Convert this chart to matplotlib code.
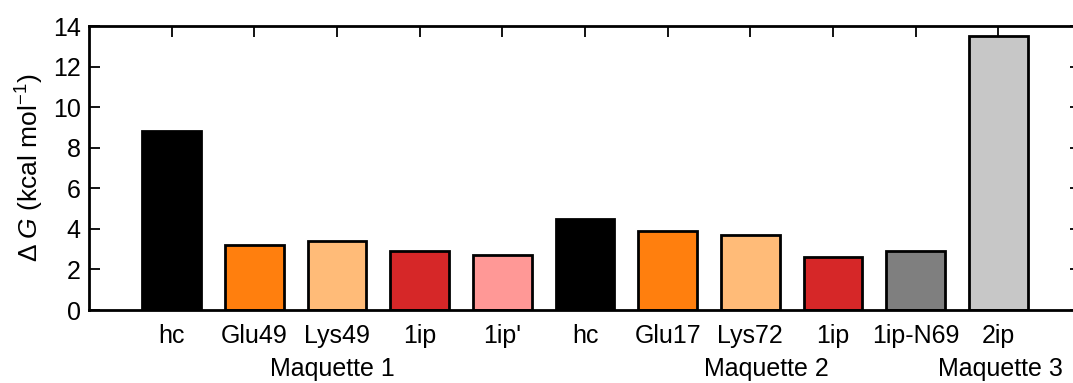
import matplotlib
matplotlib.use("Agg")
import matplotlib.pyplot as plt

plt.rcParams['font.family'] = ['Liberation Sans', 'DejaVu Sans']
plt.rcParams['mathtext.fontset'] = 'custom'
plt.rcParams['mathtext.rm'] = 'Liberation Sans'
plt.rcParams['mathtext.it'] = 'Liberation Sans:italic'

labels = ["hc", "Glu49", "Lys49", "1ip", "1ip'", "hc", "Glu17", "Lys72", "1ip", "1ip-N69", "2ip"]
values = [8.8, 3.2, 3.4, 2.9, 2.7, 4.5, 3.9, 3.7, 2.6, 2.9, 13.5]
colors = ["#000000", "#ff7f0e", "#ffbb78", "#d62728", "#ff9896", "#000000",
          "#ff7f0e", "#ffbb78", "#d62728", "#7f7f7f", "#c7c7c7"]
groups = ["Maquette 1", "Maquette 2", "Maquette 3"]
group_pos = [2.95, 8.2, 11.02]
yticks = [0, 2, 4, 6, 8, 10, 12, 14]

fig = plt.figure(figsize=(10.73, 3.83), dpi=100)
ax = fig.add_axes([89 / 1073, 1 - 310 / 383, (1081 - 89) / 1073, (310 - 26) / 383])

x = list(range(1, len(values) + 1))
ax.bar(x, values, width=0.71, color=colors, edgecolor="black", linewidth=2, zorder=2)

ax.set_xlim(0, 12)
ax.set_ylim(0, 14)
ax.set_yticks(yticks)
ax.set_xticks(x)
ax.set_xticklabels(labels)
for s in ax.spines.values():
    s.set_linewidth(2)
ax.tick_params(axis="both", direction="in", labelsize=18, top=True, right=True,
               length=8, width=1.3, zorder=3)
ax.tick_params(axis="x", pad=10)
ax.tick_params(axis="y", pad=6)
ax.set_ylabel(r"$\Delta\;G$ (kcal mol$^{-1}$)", fontsize=19, labelpad=5)

for name, gx in zip(groups, group_pos):
    ax.text(gx, -2.9, name, ha="center", va="center", fontsize=18,
            transform=ax.transData)

fig.savefig("out.png", dpi=100)
